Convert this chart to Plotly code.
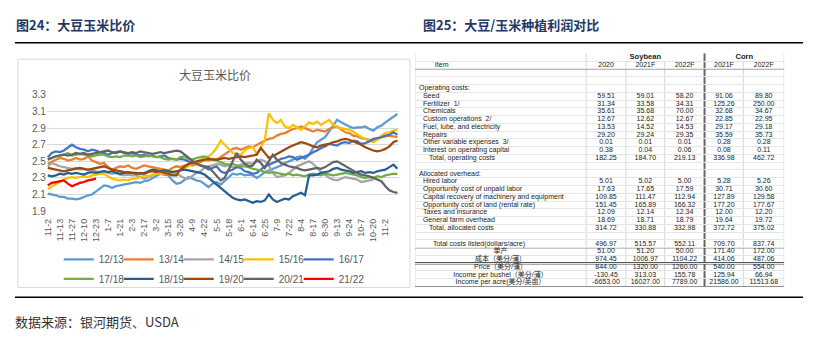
import plotly.graph_objects as go

W, H = 815, 338


def fx(x):
    """pixel column -> paper x"""
    return x / W


def fy(y):
    """pixel row (from top) -> paper y"""
    return 1 - y / H


# ---------------- 大豆玉米比价 (soybean / corn price ratio) ----------------
seasons = ["12/13", "13/14", "14/15", "15/16", "16/17",
           "17/18", "18/19", "19/20", "20/21", "21/22"]
season_colors = ["#5B9BD5", "#ED7D31", "#A5A5A5", "#FFC000", "#4472C4",
                 "#70AD47", "#255E91", "#9E480E", "#636363", "#FF0000"]

date_labels = ["11-2", "11-13", "11-27", "12-10", "12-23", "1-7", "1-21", "2-3",
               "2-17", "3-2", "3-15", "3-26", "4-9", "4-22", "5-5", "5-18", "6-1",
               "6-14", "6-25", "7-9", "7-22", "8-4", "8-17", "8-30", "9-13", "9-24",
               "10-7", "10-20", "11-2"]
label_step = 3  # samples between two date labels

s1213 = [2.11, 2.10, 2.09, 2.07, 2.07, 2.05, 2.05, 2.04, 2.05, 2.07,
         2.09, 2.10, 2.14, 2.17, 2.21, 2.20, 2.18, 2.20, 2.21, 2.22,
         2.23, 2.24, 2.25, 2.24, 2.26, 2.27, 2.30, 2.33, 2.35, 2.34,
         2.33, 2.27, 2.23, 2.24, 2.27, 2.31, 2.29, 2.27, 2.26, 2.23,
         2.19, 2.23, 2.25, 2.22, 2.26, 2.31, 2.35, 2.34, 2.35, 2.33,
         2.34, 2.33, 2.30, 2.33, 2.37, 2.39, 2.41, 2.43, 2.45, 2.48,
         2.50, 2.52, 2.55, 2.56, 2.53, 2.58, 2.66, 2.73, 2.76, 2.79,
         2.86, 2.93, 3.00, 2.97, 2.94, 2.92, 2.90, 2.91, 2.91, 2.92,
         2.89, 2.87, 2.91, 2.93, 2.97, 3.00, 3.03, 3.07]
s1314 = [2.47, 2.50, 2.52, 2.54, 2.53, 2.51, 2.52, 2.54, 2.52, 2.53,
         2.56, 2.51, 2.49, 2.47, 2.48, 2.43, 2.40, 2.42, 2.44, 2.43,
         2.45, 2.42, 2.41, 2.43, 2.45, 2.44, 2.43, 2.42, 2.41, 2.40,
         2.39, 2.42, 2.44, 2.43, 2.45, 2.46, 2.45, 2.47, 2.49, 2.52,
         2.51, 2.53, 2.52, 2.55, 2.58, 2.61, 2.65, 2.66, 2.64, 2.66,
         2.68, 2.67, 2.70, 2.72, 2.75, 2.77, 2.78, 2.81, 2.83, 2.84,
         2.87, 2.89, 2.90, 2.92, 2.90, 2.88, 2.86, 2.88, 2.87, 2.86,
         2.89, 2.91, 2.92, 2.88, 2.85, 2.84, 2.81, 2.80, 2.78, 2.77,
         2.76, 2.75, 2.77, 2.79, 2.80, 2.81, 2.80, 2.79]
s1415 = [2.44, 2.48, 2.46, 2.44, 2.43, 2.42, 2.41, 2.42, 2.40, 2.41,
         2.39, 2.40, 2.38, 2.37, 2.38, 2.36, 2.35, 2.36, 2.34, 2.33,
         2.34, 2.33, 2.33, 2.31, 2.29, 2.31, 2.33, 2.35, 2.35, 2.34,
         2.36, 2.34, 2.35, 2.32, 2.30, 2.29, 2.33, 2.36, 2.38, 2.42,
         2.44, 2.45, 2.47, 2.46, 2.44, 2.45, 2.43, 2.44, 2.46, 2.47,
         2.48, 2.47, 2.50, 2.52, 2.50, 2.45, 2.36, 2.31, 2.32, 2.33,
         2.36, 2.40, 2.44, 2.46, 2.48, 2.50, 2.47, 2.42, 2.37, 2.34,
         2.30, 2.28, 2.27, 2.29, 2.31, 2.30, 2.29, 2.28, 2.25, 2.26,
         2.27, 2.28]
s1516 = [2.17, 2.20, 2.23, 2.26, 2.28, 2.30, 2.31, 2.30, 2.31, 2.32,
         2.31, 2.33, 2.34, 2.35, 2.35, 2.32, 2.29, 2.28, 2.27, 2.28,
         2.27, 2.29, 2.29, 2.31, 2.33, 2.32, 2.34, 2.35, 2.36, 2.35,
         2.36, 2.38, 2.37, 2.40, 2.42, 2.44, 2.47, 2.50, 2.52, 2.54,
         2.56, 2.60, 2.66, 2.75, 2.70, 2.64, 2.60, 2.59, 2.58, 2.63,
         2.66, 2.67, 2.59, 2.66, 2.76, 3.08, 3.00, 2.96, 3.00, 2.92,
         2.90, 2.94, 2.91, 2.88, 2.92, 2.97, 2.95, 2.98, 2.94, 2.97,
         3.00, 2.94, 2.91, 2.90, 2.89, 2.88, 2.86, 2.82, 2.79, 2.77,
         2.75, 2.73, 2.76, 2.81, 2.84, 2.85, 2.87, 2.88]
s1617 = [2.55, 2.60, 2.62, 2.61, 2.63, 2.66, 2.70, 2.67, 2.65, 2.64,
         2.62, 2.64, 2.63, 2.61, 2.60, 2.58, 2.60, 2.61, 2.62, 2.60,
         2.59, 2.60, 2.58, 2.57, 2.58, 2.56, 2.57, 2.55, 2.56, 2.57,
         2.54, 2.53, 2.52, 2.53, 2.52, 2.50, 2.49, 2.47, 2.45, 2.43,
         2.40, 2.42, 2.44, 2.38, 2.36, 2.38, 2.40, 2.43, 2.42, 2.38,
         2.37, 2.35, 2.36, 2.40, 2.44, 2.46, 2.48, 2.50, 2.53, 2.54,
         2.56, 2.55, 2.52, 2.54, 2.56, 2.58, 2.61, 2.63, 2.66, 2.68,
         2.71, 2.70, 2.69, 2.72, 2.73, 2.72, 2.75, 2.74, 2.71, 2.72,
         2.74, 2.77, 2.78, 2.79, 2.81, 2.82, 2.85, 2.82]
s1718 = [2.53, 2.54, 2.56, 2.57, 2.58, 2.60, 2.57, 2.58, 2.59, 2.58,
         2.57, 2.56, 2.57, 2.58, 2.58, 2.56, 2.55, 2.56, 2.55, 2.57,
         2.57, 2.56, 2.57, 2.55, 2.56, 2.57, 2.56, 2.55, 2.55, 2.53,
         2.52, 2.53, 2.52, 2.55, 2.56, 2.53, 2.52, 2.54, 2.55, 2.56,
         2.54, 2.52, 2.51, 2.49, 2.47, 2.46, 2.47, 2.45, 2.44, 2.44,
         2.43, 2.41, 2.40, 2.39, 2.37, 2.36, 2.37, 2.36, 2.35, 2.34,
         2.35, 2.33, 2.34, 2.33, 2.32, 2.34, 2.35, 2.34, 2.33, 2.35,
         2.34, 2.33, 2.34, 2.35, 2.36, 2.35, 2.34, 2.33, 2.31, 2.30,
         2.31, 2.30, 2.32, 2.31, 2.33, 2.34, 2.35, 2.35]
s1819 = [2.33, 2.32, 2.33, 2.35, 2.34, 2.36, 2.35, 2.36, 2.35, 2.34,
         2.36, 2.37, 2.36, 2.37, 2.38, 2.37, 2.38, 2.36, 2.35, 2.36,
         2.37, 2.36, 2.36, 2.35, 2.36, 2.38, 2.40, 2.39, 2.38, 2.39,
         2.38, 2.37, 2.38, 2.39, 2.40, 2.39, 2.38, 2.37, 2.36, 2.34,
         2.30, 2.27, 2.23, 2.19, 2.15, 2.10, 2.06, 2.04, 2.03, 2.04,
         2.02, 2.00, 2.02, 2.01, 2.03, 2.10, 2.04, 2.01, 2.03, 2.05,
         2.04, 2.08, 2.10, 2.12, 2.09, 2.33, 2.33, 2.34, 2.36, 2.37,
         2.38, 2.41, 2.42, 2.40, 2.39, 2.38, 2.36, 2.37, 2.38, 2.36,
         2.37, 2.36, 2.38, 2.39, 2.40, 2.43, 2.46, 2.41]
s1920 = [2.42, 2.41, 2.40, 2.39, 2.38, 2.39, 2.40, 2.41, 2.42, 2.41,
         2.40, 2.41, 2.42, 2.43, 2.44, 2.42, 2.40, 2.39, 2.38, 2.37,
         2.36, 2.36, 2.35, 2.36, 2.35, 2.37, 2.38, 2.37, 2.38, 2.36,
         2.35, 2.33, 2.33, 2.40, 2.44, 2.47, 2.48, 2.50, 2.51, 2.52,
         2.53, 2.52, 2.52, 2.53, 2.54, 2.53, 2.54, 2.55, 2.56, 2.55,
         2.56, 2.57, 2.58, 2.66, 2.60, 2.54, 2.56, 2.59, 2.62, 2.64,
         2.67, 2.69, 2.71, 2.73, 2.72, 2.70, 2.68, 2.67, 2.69, 2.70,
         2.71, 2.73, 2.74, 2.76, 2.77, 2.76, 2.74, 2.72, 2.70, 2.67,
         2.65, 2.63, 2.62, 2.63, 2.65, 2.68, 2.73, 2.75]
s2021 = [2.52, 2.54, 2.56, 2.57, 2.58, 2.57, 2.58, 2.60, 2.59, 2.60,
         2.58, 2.59, 2.60, 2.61, 2.62, 2.63, 2.61, 2.60, 2.62, 2.61,
         2.60, 2.61, 2.60, 2.62, 2.61, 2.60, 2.59, 2.60, 2.61, 2.60,
         2.61, 2.62, 2.63, 2.62, 2.58, 2.54, 2.50, 2.47, 2.45, 2.44,
         2.43, 2.38, 2.33, 2.27, 2.30, 2.40, 2.52, 2.60, 2.52, 2.47,
         2.44, 2.45, 2.52, 2.48, 2.42, 2.50, 2.58, 2.52, 2.48, 2.46,
         2.44, 2.43, 2.42, 2.40, 2.39, 2.40, 2.41, 2.42, 2.41, 2.43,
         2.46, 2.49, 2.50, 2.47, 2.44, 2.41, 2.38, 2.36, 2.34, 2.33,
         2.32, 2.30, 2.28, 2.26, 2.20, 2.15, 2.13, 2.12]
s2122 = [2.21, 2.24, 2.25, 2.26, 2.27, 2.23, 2.20, 2.22, 2.24, 2.25,
         2.27, 2.28, 2.29]

ratio_series = [s1213, s1314, s1415, s1516, s1617,
                s1718, s1819, s1920, s2021, s2122]

# ---------------- 大豆/玉米种植利润对比 (cost & return table) ----------------
col_headers = ["Item", "2020", "2021F", "2022F", "2021F", "2022F"]
crop_groups = ["Soybean", "Corn"]

row_items = ["", "", "Operating costs:", "Seed", "Fertilizer  1/", "Chemicals",
             "Custom operations  2/", "Fuel, lube, and electricity", "Repairs",
             "Other variable expenses  3/", "Interest on operating capital",
             "Total, operating costs", "", "Allocated overhead:", "Hired labor",
             "Opportunity cost of unpaid labor",
             "Capital recovery of machinery and equipment",
             "Opportunity cost of land (rental rate)", "Taxes and insurance",
             "General farm overhead", "Total, allocated costs", "",
             "Total costs listed(dollars/acre)", "单产", "成本（美分/蒲）",
             "Price（美分/蒲）", "Income per bushel（美分/蒲）",
             "Income per acre(美分/英亩）"]
soy_2020 = [None, None, None, 59.51, 31.34, 35.61, 12.67, 13.53, 29.20, 0.01, 0.38,
            182.25, None, None, 5.01, 17.63, 109.85, 151.45, 12.09, 18.69, 314.72,
            None, 496.97, 51.00, 974.45, 844.00, -130.45, -6653.00]
soy_2021f = [None, None, None, 59.01, 33.58, 35.68, 12.62, 14.52, 29.24, 0.01, 0.04,
             184.70, None, None, 5.02, 17.65, 111.47, 165.89, 12.14, 18.71, 330.88,
             None, 515.57, 51.20, 1006.97, 1320.00, 313.03, 16027.00]
soy_2022f = [None, None, None, 58.20, 34.31, 70.00, 12.67, 14.53, 29.35, 0.01, 0.06,
             219.13, None, None, 5.00, 17.59, 112.94, 166.32, 12.34, 18.79, 332.98,
             None, 552.11, 50.00, 1104.22, 1260.00, 155.78, 7789.00]
corn_2021f = [None, None, None, 91.06, 125.26, 32.68, 22.85, 29.17, 35.59, 0.28, 0.08,
              336.98, None, None, 5.28, 30.71, 127.89, 177.20, 12.00, 19.64, 372.72,
              None, 709.70, 171.40, 414.06, 540.00, 125.94, 21586.00]
corn_2022f = [None, None, None, 89.80, 250.00, 34.67, 22.95, 29.18, 35.73, 0.28, 0.11,
              462.72, None, None, 5.26, 30.60, 129.58, 177.67, 12.20, 19.72, 375.02,
              None, 837.74, 172.00, 487.06, 554.00, 66.94, 11513.68]
# label layout of each row: section head, item, subtotal, total, centred summary
row_kind = ["h", "h", "h", "i", "i", "i", "i", "i", "i", "i", "i", "t", "h", "h",
            "i", "i", "i", "i", "i", "i", "t", "h", "T", "c", "c", "c", "c", "c"]

fig = go.Figure()

# ---- ratio lines ----
for k, (name, vals, col) in enumerate(zip(seasons, ratio_series, season_colors)):
    last_in_row = k in (4, 9)
    fig.add_trace(go.Scatter(
        x=list(range(len(vals))), y=vals, mode="lines", name=name,
        line=dict(color=col, width=2.25),
        legend="legend" if k < 5 else "legend2",
        legendwidth=32 if last_in_row else 15,
        hoverinfo="skip",
    ))

# ---- table, drawn on its own axes (x in table px, y in row numbers) ----
col_edges = [413, 585, 625, 664, 704, 743, 784]
col_centres = [(a + b) / 2 for a, b in zip(col_edges[:-1], col_edges[1:])]
label_x = {"h": 417, "i": 421, "t": 427, "T": 431, "c": col_centres[0]}
label_pos = {"h": "middle right", "i": "middle right", "t": "middle right",
             "T": "middle right", "c": "middle center"}
TFONT = "Liberation Sans Narrow, Liberation Sans, Noto Sans CJK SC, sans-serif"
TSIZE = 7
body_rows = list(range(2, 2 + len(row_items)))

# group row (Soybean / Corn) and column-title row
fig.add_trace(go.Scatter(
    x=[(col_edges[1] + col_edges[4]) / 2, (col_edges[4] + col_edges[6]) / 2],
    y=[0, 0], mode="text", text=["<b>%s</b>" % g for g in crop_groups],
    textfont=dict(family=TFONT, size=7.6, color="#222222"),
    xaxis="x2", yaxis="y2", showlegend=False, hoverinfo="skip"))
fig.add_trace(go.Scatter(
    x=[433] + col_centres[1:], y=[1] * len(col_headers), mode="text",
    text=col_headers, textposition=["middle right"] + ["middle center"] * 5,
    textfont=dict(family=TFONT, size=TSIZE, color="#222222"),
    xaxis="x2", yaxis="y2", showlegend=False, hoverinfo="skip"))
# row labels
fig.add_trace(go.Scatter(
    x=[label_x[k] for k in row_kind], y=body_rows, mode="text",
    text=row_items, textposition=[label_pos[k] for k in row_kind],
    textfont=dict(family=TFONT, size=TSIZE, color="#222222"),
    xaxis="x2", yaxis="y2", showlegend=False, hoverinfo="skip"))
# numeric columns
for cx, column in zip(col_centres[1:],
                      [soy_2020, soy_2021f, soy_2022f, corn_2021f, corn_2022f]):
    fig.add_trace(go.Scatter(
        x=[cx] * len(column), y=body_rows, mode="text",
        text=["" if v is None else f"{v:.2f}" for v in column],
        textposition="middle center",
        textfont=dict(family=TFONT, size=TSIZE, color="#222222"),
        xaxis="x2", yaxis="y2", showlegend=False, hoverinfo="skip"))

n_rows = 2 + len(row_items)
tick_pos = [i * label_step for i in range(len(date_labels))]
LEG_FONT = dict(size=10, color="#595959", family="Liberation Sans, Arial")

fig.update_layout(
    width=W, height=H,
    margin=dict(l=0, r=0, t=0, b=0),
    paper_bgcolor="white", plot_bgcolor="rgba(0,0,0,0)",
    font=dict(family="Noto Sans CJK SC, Liberation Sans, sans-serif", color="#595959"),
    xaxis=dict(
        domain=[fx(43), fx(397)], range=[-0.25, 87.4],
        tickmode="array", tickvals=tick_pos, ticktext=date_labels,
        tickangle=-90, ticklabelstandoff=5,
        tickfont=dict(size=9, color="#595959", family="Liberation Sans, Arial"),
        showgrid=False, zeroline=False, showline=False, ticks="",
    ),
    yaxis=dict(
        domain=[fy(213), fy(93)], range=[1.9, 3.3], dtick=0.2, tick0=1.9,
        tickformat=".1f",
        tickfont=dict(size=10, color="#595959", family="Liberation Sans, Arial"),
        showgrid=True, gridcolor="#D9D9D9", gridwidth=1,
        zeroline=False, showline=False, ticks="",
    ),
    xaxis2=dict(
        domain=[fx(col_edges[0]), fx(col_edges[-1])],
        range=[col_edges[0], col_edges[-1]],
        showticklabels=False, showgrid=False,
        zeroline=False, showline=False, ticks="", anchor="y2",
    ),
    yaxis2=dict(
        domain=[fy(291), fy(50)], range=[n_rows - 0.5, -0.5],
        tickmode="array", tickvals=[r - 0.5 for r in range(n_rows)],
        showticklabels=False, showgrid=True, gridcolor="#E6E6E6", gridwidth=1,
        zeroline=False, showline=False, ticks="", anchor="x2",
    ),
    legend=dict(
        orientation="h", x=fx(55), y=fy(263), xanchor="left", yanchor="middle",
        font=LEG_FONT, itemwidth=30,
        bgcolor="rgba(0,0,0,0)", borderwidth=0,
    ),
    legend2=dict(
        orientation="h", x=fx(55), y=fy(283), xanchor="left", yanchor="middle",
        font=LEG_FONT, itemwidth=30,
        bgcolor="rgba(0,0,0,0)", borderwidth=0,
    ),
    showlegend=True,
)


def pline(x0, y0, x1, y1, color, width):
    return dict(type="line", xref="paper", yref="paper",
                x0=fx(x0), x1=fx(x1), y0=fy(y0), y1=fy(y1),
                line=dict(color=color, width=width))


def tline(x0, y0, x1, y1, color, width):
    return dict(type="line", xref="x2", yref="y2", x0=x0, x1=x1, y0=y0, y1=y1,
                line=dict(color=color, width=width), layer="below")


top, bottom = -0.5, n_rows - 0.5
shapes = [
    # page rules
    pline(11, 39, 803, 39, "black", 1.5),
    pline(11, 302, 803, 302, "black", 1.5),
    # chart frame
    dict(type="rect", xref="paper", yref="paper", x0=fx(14), x1=fx(408),
         y0=fy(292), y1=fy(56), line=dict(color="#D9D9D9", width=1), layer="below"),
]
# light column rules (inner year rules stop under the crop-group row)
for i, xe in enumerate(col_edges):
    y_start = 0.5 if i in (2, 3, 5) else top
    shapes.append(tline(xe, y_start, xe, bottom, "#D6D6D6", 1))
# heavy table rules
shapes += [
    tline(col_edges[4], top, col_edges[4], bottom, "#666666", 2),
    tline(col_edges[0], 1.5, col_edges[-1], 1.5, "#777777", 1.2),
    tline(col_edges[0], 24.5, col_edges[-1], 24.5, "#222222", 1.3),
    tline(col_edges[0], 26.5, col_edges[-1], 26.5, "#555555", 2.5),
    tline(col_edges[0], bottom, col_edges[-1], bottom, "#222222", 1.3),
]
fig.update_layout(shapes=shapes)

annotations = [
    dict(text="<b>图24：大豆玉米比价</b>", x=fx(10), y=fy(20), xanchor="left",
         yanchor="middle", font=dict(size=13, color="#1F3864")),
    dict(text="<b>图25：大豆/玉米种植利润对比</b>", x=fx(419), y=fy(20),
         xanchor="left", yanchor="middle", font=dict(size=13, color="#1F3864")),
    dict(text="大豆玉米比价", x=fx(212), y=fy(72), xanchor="center",
         yanchor="middle", font=dict(size=12, color="#595959")),
    dict(text="数据来源：银河期货、USDA", x=fx(9), y=fy(327), xanchor="left",
         yanchor="middle", font=dict(size=13, color="#333333")),
]
for a in annotations:
    a.update(xref="paper", yref="paper", showarrow=False)
fig.update_layout(annotations=annotations)

fig.write_html("out.html")
